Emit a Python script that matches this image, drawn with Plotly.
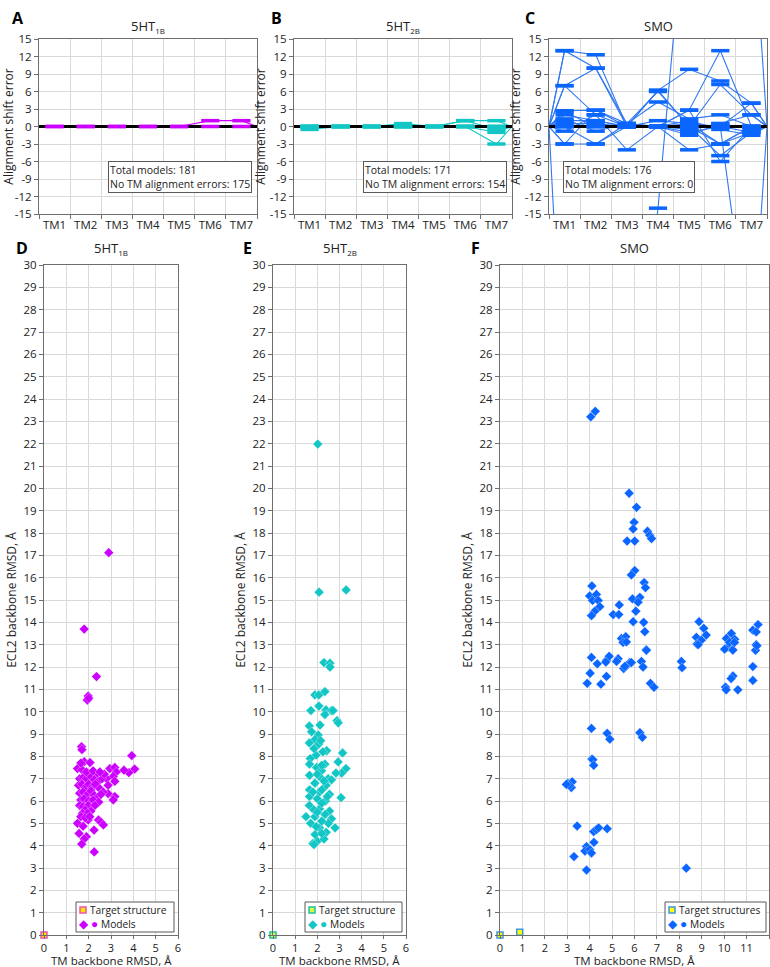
import plotly.graph_objects as go

W, H = 770, 967
FONT = "Open Sans"

# ---------------- data ----------------
TM_LABELS = ["TM1", "TM2", "TM3", "TM4", "TM5", "TM6", "TM7"]
SHIFT_TICKS = [-15, -12, -9, -6, -3, 0, 3, 6, 9, 12, 15]

# alignment shift profiles (one list per distinct model profile), values for TM1..TM7
A_PROFILES = [
    [0, 0, 0, 0, 0, 0, 0],
    [0, 0, 0, 0, 0, 1, 1],
]
B_PROFILES = [
    [0, 0, 0, 0, 0, 0, 0],
    [-0.5, 0, 0, 0, 0, 0, 0],
    [0, 0, 0, 0.5, 0, 0, 0],
    [0, 0, 0, 0, 0, 1, 1],
    [0, 0, 0, 0, 0, 0, -3],
    [0, 0, 0, 0, 0, 0, -1],
    [0, 0, 0, 0, 0, 1, -0.5],
]
C_PROFILES = [
    [0, 0, 0, 0, 0, 0, 0],
    [13, 12.3, 0, 0, 0, 0, 0],
    [13, 10, 0.5, 0, 2.8, 13, 0],
    [7, 10, 0, 6.2, 9.8, 7.8, 4],
    [7, 2, 0, 6.2, 0, 7.2, 2],
    [2.7, 2.8, 0.5, 4.2, 1.3, 2, 0],
    [2, 1, 0, 1, 0.5, 0, -1],
    [-3, -3, 0, 0, -4, -3, 0],
    [-0.8, 2, -4, 0, 0, -5, -1],
    [1.3, -0.8, 0.5, 0, 2.8, -6, 0],
    [0, 0, 0, 0, -1.5, 0.5, 2],
    [2.5, 0, 0, 0, 1, -0.5, -1.5],
    [-3, 2.8, 0, 0, -1, 0, 4],
    [0, -3, 0.5, 6, 0, -3, 0],
    [1, 1, 0, 0, 0.5, -3, -1],
    [0.5, 0.5, 0, 0, -0.5, 0.5, -0.5],
    [-50, None, None, None, None, None, None],
    [None, None, -60, -14, 45, None, None],
    [0, 0, 0, 0, 0, 0, -40],
    [None, None, None, None, None, None, 40],
]
A_TOTAL, A_OK = 181, 175
B_TOTAL, B_OK = 171, 154
C_TOTAL, C_OK = 176, 0

# ECL2 vs TM RMSD scatter data
D_X = [2.90, 1.80, 2.35, 1.98, 1.94, 2.00, 1.68, 1.70, 1.80, 2.06, 3.93, 4.06, 3.80, 3.58,
       2.95, 3.17, 3.24, 3.10, 2.80, 1.50, 2.35, 3.17, 2.87, 2.87, 3.17, 3.10,
       1.60, 1.75, 1.90, 2.10, 2.25, 2.45, 2.60, 2.70, 1.55, 1.70, 1.85, 2.00, 2.15, 2.30,
       2.50, 2.65, 1.60, 1.75, 1.95, 2.10, 2.25, 2.40, 2.55, 1.65, 1.80, 2.00, 2.20, 2.45,
       1.60, 1.75, 1.98, 2.28, 1.85, 2.10, 1.72, 1.96, 1.50, 1.98, 1.75, 2.44, 2.55, 2.66,
       1.57, 1.90, 1.80, 2.24, 1.69, 2.25, 1.65, 1.85, 2.05, 1.70, 1.90, 2.20, 2.50, 1.65]
D_Y = [17.12, 13.70, 11.57, 10.70, 10.52, 10.60, 8.43, 8.30, 7.76, 7.72, 8.03, 7.43, 7.27, 7.38,
       7.45, 7.50, 7.30, 7.10, 7.00, 7.45, 7.20, 6.88, 6.70, 6.33, 6.20, 6.05,
       7.00, 7.05, 7.00, 7.10, 6.95, 6.90, 7.00, 7.20, 6.70, 6.75, 6.60, 6.75, 6.60, 6.75,
       6.55, 6.40, 6.35, 6.40, 6.30, 6.45, 6.25, 6.15, 6.30, 6.05, 6.10, 6.00, 6.05, 5.95,
       5.80, 5.75, 5.80, 5.80, 5.60, 5.55, 5.45, 5.45, 5.00, 5.15, 4.87, 5.15, 5.05, 4.93,
       4.55, 4.40, 4.30, 4.70, 4.07, 3.72, 5.30, 5.25, 5.30, 7.40, 7.30, 7.35, 7.30, 7.70]

E_X = [2.02, 2.08, 3.30, 2.30, 2.57, 2.57, 1.89, 2.07, 2.34, 1.71, 2.07, 2.39, 2.34, 2.64, 2.71,
       2.89, 2.94, 1.64, 1.74, 2.12, 2.04, 1.89, 1.64, 2.07, 1.94, 2.42, 3.14, 2.94, 1.68, 1.65,
       2.34, 1.97, 2.19, 3.29, 3.10, 1.65, 2.09, 2.49, 2.84, 2.64, 1.89, 1.65, 2.10, 2.40, 2.55,
       3.07, 1.65, 2.37, 1.64, 2.10, 2.55, 1.49, 1.89, 2.64, 1.80, 2.00, 2.30, 1.90, 2.40, 2.10,
       2.50, 1.70, 2.20, 2.80, 1.85, 2.20, 1.95, 2.25, 2.20, 2.00, 2.30, 2.20, 1.80, 2.00, 2.20,
       1.85, 2.35, 2.00, 2.45, 1.85, 2.15]
E_Y = [21.98, 15.35, 15.45, 12.20, 12.17, 12.00, 10.75, 10.75, 10.90, 10.05, 10.25, 10.08, 9.87, 10.05, 10.05,
       9.60, 9.50, 9.36, 9.10, 9.40, 8.95, 8.75, 8.60, 8.55, 8.05, 8.25, 8.15, 7.75, 7.90, 7.65,
       7.65, 7.50, 7.35, 7.45, 7.25, 7.15, 7.10, 7.00, 7.25, 6.95, 6.80, 6.50, 6.40, 6.70, 6.30,
       6.15, 6.20, 6.00, 5.80, 5.65, 5.55, 5.30, 5.30, 5.20, 4.10, 4.20, 4.30, 4.50, 4.60, 4.80,
       5.00, 5.00, 5.10, 4.80, 4.05, 4.55, 4.85, 8.20, 7.60, 7.20, 6.90, 6.50, 6.40, 6.10, 5.90,
       5.60, 5.40, 5.50, 6.20, 8.35, 8.70]

F_X = [4.05, 4.25, 5.76, 6.09, 5.98, 5.94, 5.67, 6.01, 6.58, 6.68, 6.76, 6.01, 5.86, 6.43, 6.49,
       4.10, 4.00, 4.30, 4.13, 4.38, 4.45, 4.23, 4.08, 5.32, 5.05, 5.30, 5.91, 6.24, 6.16, 6.06,
       5.94, 6.41, 6.46, 6.53, 8.88, 9.09, 9.20, 8.76, 8.98, 8.79, 10.32, 10.10, 10.47, 10.17, 10.36,
       10.24, 11.51, 11.28, 11.43, 11.43, 11.40, 5.42, 5.61, 4.08, 4.34, 4.75, 4.87, 5.27, 5.20, 5.64,
       5.79, 6.31, 6.38, 8.09, 11.28, 4.02, 3.89, 4.50, 4.75, 4.72, 5.52, 5.57, 5.86, 5.49, 5.64,
       6.53, 6.71, 6.87, 8.12, 8.84, 10.06, 10.09, 10.39, 10.31, 10.61, 10.02, 10.39, 10.46, 11.28, 11.46,
       4.08, 4.10, 4.14, 4.18, 4.78, 4.90, 6.24, 6.35, 3.03, 3.22, 3.18, 3.10, 2.96,
       3.44, 4.18, 4.30, 4.40, 4.78, 3.86, 4.19, 3.79, 4.00, 4.08, 3.30, 3.86, 8.31]
F_Y = [23.20, 23.45, 19.78, 19.15, 18.48, 18.18, 17.64, 17.64, 18.08, 17.90, 17.75, 16.32, 16.12, 15.78, 15.55,
       15.63, 15.18, 15.25, 14.98, 14.98, 14.70, 14.50, 14.30, 14.78, 14.35, 14.35, 15.05, 15.12, 14.90, 14.50,
       14.03, 14.00, 13.58, 12.77, 14.03, 13.73, 13.43, 13.33, 13.20, 13.03, 13.50, 13.28, 13.24, 12.90, 12.78,
       13.10, 13.90, 13.65, 13.57, 13.00, 12.75, 13.28, 13.36, 12.43, 12.14, 12.30, 12.48, 12.37, 12.25, 12.05,
       12.20, 12.25, 12.00, 12.25, 12.02, 11.72, 11.27, 11.23, 11.58, 12.22, 11.93, 12.03, 12.20, 13.10, 13.12,
       12.75, 11.27, 11.09, 11.97, 13.00, 11.10, 10.98, 11.60, 11.48, 10.98, 12.80, 12.76, 13.10, 11.40, 12.95,
       9.25, 7.88, 7.85, 7.60, 9.03, 8.77, 9.06, 8.85, 6.79, 6.86, 6.60, 6.70, 6.74,
       4.88, 4.63, 4.72, 4.80, 4.76, 3.96, 4.15, 3.76, 3.83, 3.67, 3.51, 2.91, 2.99]

D_TARGET_X, D_TARGET_Y = [0], [0]
E_TARGET_X, E_TARGET_Y = [0], [0]
F_TARGET_X, F_TARGET_Y = [0, 0.88], [0, 0.12]

# ---------------- styling ----------------
MAGENTA = "#CC00FF"
CYAN = "#12C6C6"
BLUE = "#0A66FF"
BLUE_LINE = "#2F78F2"
GRID = "#D9D9D9"
FRAME = "#6E6E6E"
TXT = "#222"


def fx(px):
    return px / W


def fy(py):
    return 1 - py / H


fig = go.Figure()

TOP = [
    ("x", "y", A_PROFILES, MAGENTA, MAGENTA),
    ("x2", "y2", B_PROFILES, CYAN, CYAN),
    ("x3", "y3", C_PROFILES, BLUE_LINE, BLUE),
]
TM_POS = [i + 0.5 for i in range(7)]
for xa, ya, profiles, lcol, mcol in TOP:
    for prof in profiles:
        fig.add_trace(go.Scatter(
            x=[0] + TM_POS + [7], y=[0] + prof + [0], xaxis=xa, yaxis=ya,
            mode="lines", line=dict(color=lcol, width=1.1), showlegend=False,
            hoverinfo="skip"))
    fig.add_trace(go.Scatter(
        x=[0, 7], y=[0, 0], xaxis=xa, yaxis=ya, mode="lines",
        line=dict(color="black", width=3), showlegend=False, hoverinfo="skip"))
    for prof in profiles:
        fig.add_trace(go.Scatter(
            x=TM_POS, y=prof, xaxis=xa, yaxis=ya, mode="markers",
            marker=dict(symbol="line-ew", size=13, line=dict(color=mcol, width=3.5)),
            showlegend=False, hoverinfo="skip", cliponaxis=True))

# (xaxis, yaxis, x, y, target x, target y, colour, target border, target fill,
#  legend box (left, right) px, target label)
BOTTOM = [
    ("x4", "y4", D_X, D_Y, D_TARGET_X, D_TARGET_Y, MAGENTA, "#F050B0", "#FFE600", (76, 174), "Target structure"),
    ("x5", "y5", E_X, E_Y, E_TARGET_X, E_TARGET_Y, CYAN, "#22C0A0", "#D8FF40", (305, 402), "Target structure"),
    ("x6", "y6", F_X, F_Y, F_TARGET_X, F_TARGET_Y, BLUE, "#3C96E6", "#FFFF00", (665, 766), "Target structures"),
]
LEG_TOP, LEG_BOTTOM = 902, 932
ann = []
shapes = []
for xa, ya, xs, ys, tx, ty, col, tline, tfill, (lx0, lx1), tname in BOTTOM:
    fig.add_trace(go.Scatter(
        x=xs, y=ys, xaxis=xa, yaxis=ya, mode="markers", name="Models", showlegend=False,
        marker=dict(symbol="diamond", size=7.5, color=col,
                    line=dict(color="rgba(255,255,255,0.55)", width=0.6)),
        cliponaxis=False))
    fig.add_trace(go.Scatter(
        x=tx, y=ty, xaxis=xa, yaxis=ya, mode="markers", name=tname, showlegend=False,
        marker=dict(symbol="square", size=6, color=tfill, line=dict(color=tline, width=1.5)),
        cliponaxis=False))
    # compact legend box
    shapes.append(dict(type="rect", xref="paper", yref="paper",
                       x0=fx(lx0), x1=fx(lx1), y0=fy(LEG_BOTTOM), y1=fy(LEG_TOP),
                       fillcolor="white", line=dict(color="#595959", width=1), layer="above"))
    shapes.append(dict(type="rect", xref="paper", yref="paper",
                       x0=fx(lx0 + 4), x1=fx(lx0 + 10), y0=fy(LEG_TOP + 11), y1=fy(LEG_TOP + 5),
                       fillcolor=tfill, line=dict(color=tline, width=1.5), layer="above"))
    ann.append(dict(x=fx(lx0 + 12), y=fy(LEG_TOP + 8), xref="paper", yref="paper",
                    xanchor="left", yanchor="middle", showarrow=False, text=tname,
                    font=dict(family=FONT, size=10.2, color=TXT)))
    ann.append(dict(x=fx(lx0 + 1), y=fy(LEG_TOP + 21), xref="paper", yref="paper",
                    xanchor="left", yanchor="middle", showarrow=False,
                    text=f"<span style='color:{col};font-size:12px'>◆ ●</span> Models",
                    font=dict(family=FONT, size=10.2, color=TXT)))

# ---------------- axes ----------------
top_x = [(39, 257), (294, 512), (549, 767)]
top_y = (39, 214)
bot_x = [(44, 178), (273, 406), (500, 769)]
bot_y = (265, 935)
tickfont = dict(family=FONT, size=11.5, color=TXT)
xtickfont = dict(family=FONT, size=11, color=TXT)
titlefont = dict(family=FONT, size=12, color=TXT)
layout = {}
for i, (x0, x1) in enumerate(top_x):
    k = "" if i == 0 else str(i + 1)
    layout["xaxis" + k] = dict(
        domain=[fx(x0), fx(x1)], range=[0, 7], anchor="y" + k, automargin=False,
        tickmode="array", tickvals=TM_POS, ticktext=TM_LABELS, ticks="",
        showgrid=False, zeroline=False, showline=True, linecolor=FRAME, mirror=True,
        tickfont=tickfont,
        minor=dict(tickmode="linear", tick0=0, dtick=1, ticks="outside", ticklen=4,
                   tickcolor=FRAME, showgrid=True, gridcolor=GRID, gridwidth=1))
    layout["yaxis" + k] = dict(
        domain=[fy(top_y[1]), fy(top_y[0])], range=[-15, 15], anchor="x" + k,
        automargin=False, tickmode="array", tickvals=SHIFT_TICKS,
        ticktext=[str(v) for v in SHIFT_TICKS], ticks="outside", ticklen=4,
        tickcolor=FRAME, showgrid=True, gridcolor=GRID, zeroline=False, showline=True,
        linecolor=FRAME, mirror=True, tickfont=tickfont,
        title=dict(text="Alignment shift error", font=titlefont, standoff=1))
for i, (x0, x1) in enumerate(bot_x):
    k = str(i + 4)
    xmax = 12 if i == 2 else 6
    layout["xaxis" + k] = dict(
        domain=[fx(x0), fx(x1)], range=[0, xmax], anchor="y" + k, automargin=False,
        tickmode="linear", tick0=0, dtick=1, ticks="outside", ticklen=3, tickcolor=FRAME,
        showgrid=True, gridcolor=GRID, zeroline=False, showline=True, linecolor=FRAME,
        mirror=True, tickfont=xtickfont)
    layout["yaxis" + k] = dict(
        domain=[fy(bot_y[1]), fy(bot_y[0])], range=[0, 30], anchor="x" + k, automargin=False,
        tickmode="linear", tick0=0, dtick=1, ticks="outside", ticklen=4, tickcolor=FRAME,
        showgrid=True, gridcolor=GRID, zeroline=False, showline=True, linecolor=FRAME,
        mirror=True, tickfont=tickfont,
        title=dict(text="ECL2 backbone RMSD, Å", font=titlefont, standoff=4))
    # x-axis title placed as a caption just under the tick labels
    ann.append(dict(x=fx((x0 + x1) / 2), y=fy(960), xref="paper", yref="paper",
                    xanchor="center", yanchor="middle", showarrow=False,
                    text="TM backbone RMSD, Å", font=dict(family=FONT, size=11.5, color=TXT)))

sub = "<sub><span style='font-size:8px'>{}</span></sub>"
titles = [(148, 26, "5HT" + sub.format("1B")), (403, 26, "5HT" + sub.format("2B")),
          (658, 26, "SMO"), (111, 248, "5HT" + sub.format("1B")),
          (340, 248, "5HT" + sub.format("2B")), (634, 248, "SMO")]
for x, y, t in titles:
    ann.append(dict(x=fx(x), y=fy(y), xref="paper", yref="paper", text=t, showarrow=False,
                    xanchor="center", yanchor="middle",
                    font=dict(family=FONT, size=13, color=TXT)))
letters = [(18, 18, "A"), (276, 18, "B"), (530, 18, "C"),
           (22, 248, "D"), (247, 248, "E"), (475, 248, "F")]
for x, y, t in letters:
    ann.append(dict(x=fx(x), y=fy(y), xref="paper", yref="paper", text=f"<b>{t}</b>",
                    xanchor="center", yanchor="middle",
                    showarrow=False, font=dict(family=FONT, size=16, color="black")))
boxes = [("x", "y", 0.977, A_TOTAL, A_OK), ("x2", "y2", 0.977, B_TOTAL, B_OK),
         ("x3", "y3", 0.67, C_TOTAL, C_OK)]
for xa, ya, xr, tot, ok in boxes:
    ann.append(dict(x=xr, y=0.12, xref=xa + " domain", yref=ya + " domain",
                    xanchor="right", yanchor="bottom", align="left", showarrow=False,
                    text=f"Total models: {tot}<br>No TM alignment errors: {ok}",
                    bgcolor="white", bordercolor="#595959", borderwidth=1, borderpad=1,
                    font=dict(family=FONT, size=10.5, color=TXT)))

fig.update_layout(width=W, height=H, margin=dict(l=0, r=0, t=0, b=0),
                  plot_bgcolor="white", paper_bgcolor="white", showlegend=False,
                  font=dict(family=FONT, color=TXT), annotations=ann, shapes=shapes, **layout)

fig.write_html("out.html", config={"displayModeBar": False},
               post_script="document.body.style.margin='0px';")
